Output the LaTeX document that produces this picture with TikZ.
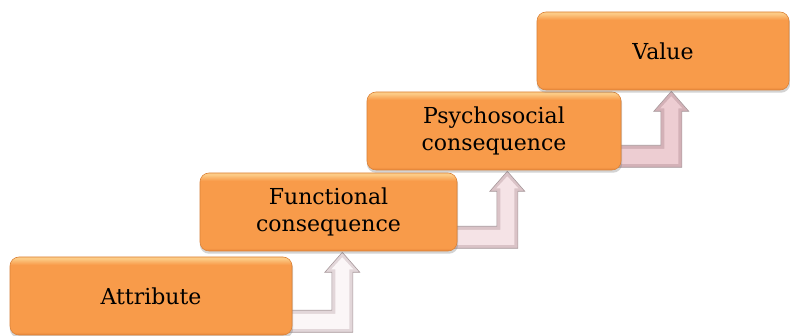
\documentclass[tikz,border=0pt]{standalone}
\usepackage{fontspec}
\setmainfont{DejaVu Serif}
\usetikzlibrary{shadows,calc,backgrounds}
\definecolor{boxtop}{HTML}{FCCB86}
\definecolor{boxmid}{HTML}{F89B4A}
\definecolor{boxbot}{HTML}{E7863A}
\definecolor{boxline}{HTML}{DB8238}
\definecolor{arredge}{HTML}{A8999C}
\definecolor{arrAin}{HTML}{FBF6F7}
\definecolor{arrAout}{HTML}{E2D6D9}
\definecolor{arrBin}{HTML}{F5E3E6}
\definecolor{arrBout}{HTML}{DAC3C7}
\definecolor{arrCin}{HTML}{EDCDD2}
\definecolor{arrCout}{HTML}{D3B1B7}
\pgfdeclareverticalshading{boxshade}{100bp}{color(0bp)=(boxbot); color(25bp)=(boxbot);
  color(27bp)=(boxmid); color(70bp)=(boxmid); color(74bp)=(boxtop); color(100bp)=(boxtop)}
\tikzset{
  x=1pt, y=1pt,
  stagebox/.style={rounded corners=9pt, minimum width=#1, minimum height=78pt,
    shading=boxshade, draw=boxline, line width=0.6pt, align=center, inner sep=0pt,
    font=\fontsize{22}{27}\selectfont,
    drop shadow={shadow xshift=0.5pt, shadow yshift=-2.5pt, opacity=0.35, shadow scale=1.005}},
  arrowouter/.style={fill=#1, draw=arredge, line width=0.6pt, line join=miter},
  arrowinner/.style={fill=#1, draw=none},
}
\newcommand\bentarrow[4]{%
  \path[arrowouter=#3] let \p1=(#1.south east), \p2=(#2.south) in
    ({\x1-12},{\y1+3}) -- ({\x1+60.5},{\y1+3}) -- ({\x1+60.5},{\y2-21})
    -- ({\x1+67.5},{\y2-21}) -- ({\x1+50},{\y2-1}) -- ({\x1+32.5},{\y2-21})
    -- ({\x1+39.5},{\y2-21}) -- ({\x1+39.5},{\y1+25}) -- ({\x1-12},{\y1+25}) -- cycle;
  \path[arrowinner=#4] let \p1=(#1.south east), \p2=(#2.south) in
    ({\x1-12},{\y1+6.5}) -- ({\x1+57},{\y1+6.5}) -- ({\x1+57},{\y2-18})
    -- ({\x1+61},{\y2-18}) -- ({\x1+50},{\y2-6}) -- ({\x1+39},{\y2-18})
    -- ({\x1+43},{\y2-18}) -- ({\x1+43},{\y1+21.5}) -- ({\x1-12},{\y1+21.5}) -- cycle;
}
\begin{document}
\begin{tikzpicture}
\useasboundingbox (0,0) rectangle (790,336);
\node[stagebox=282pt] (attr) at (151,40) {Attribute};
\node[stagebox=257pt] (func) at (328.5,124) {Functional\\consequence};
\node[stagebox=254pt] (psy) at (494,205) {Psychosocial\\consequence};
\node[stagebox=252pt] (val) at (663,285) {Value};
\begin{scope}[on background layer]
\bentarrow{attr}{func}{arrAout}{arrAin}
\bentarrow{func}{psy}{arrBout}{arrBin}
\bentarrow{psy}{val}{arrCout}{arrCin}
\end{scope}
\end{tikzpicture}
\end{document}
